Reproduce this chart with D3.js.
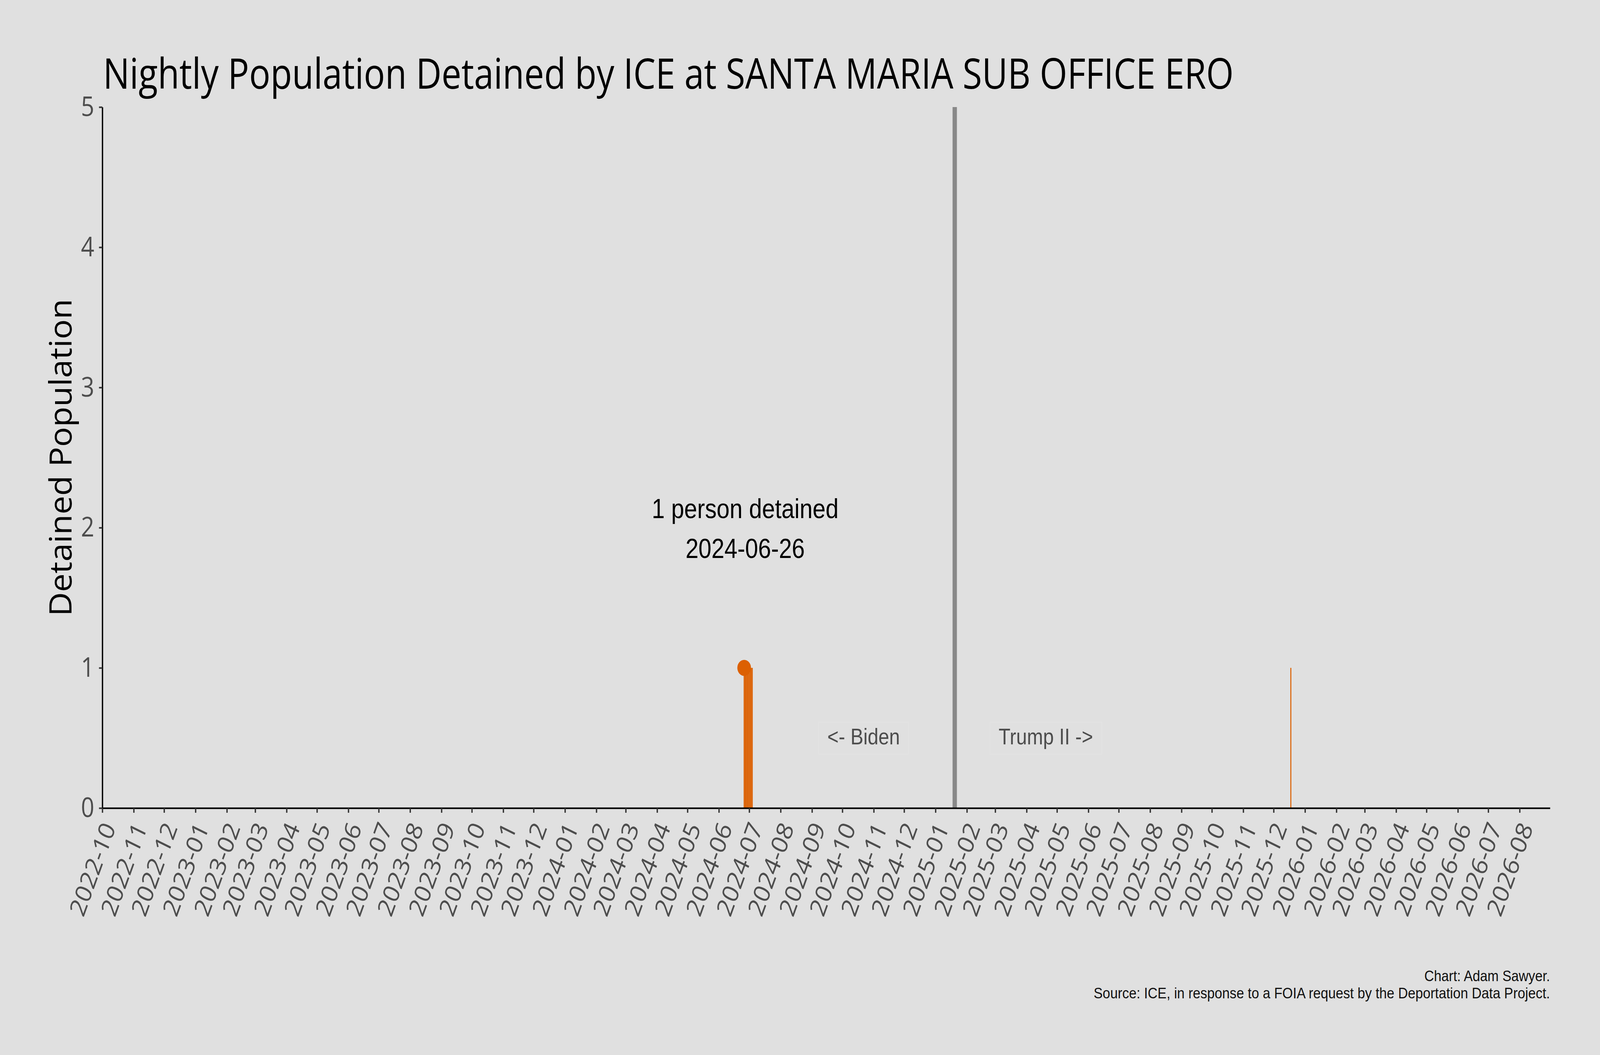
<!DOCTYPE html>
<html>
<head>
<meta charset="utf-8">
<script src="https://cdn.jsdelivr.net/npm/d3@7"></script>
<style>
  html, body { margin: 0; padding: 0; overflow: hidden; background: #e0e0e0; }
  svg { display: block; width: 100vw; height: 100vh; }
</style>
</head>
<body>
<div id="root"></div>
<script>
// ---- data ----
var title = "Nightly Population Detained by ICE at SANTA MARIA SUB OFFICE ERO";
var yLabel = "Detained Population";
var captionLines = [
  "Chart: Adam Sawyer.",
  "Source: ICE, in response to a FOIA request by the Deportation Data Project."
];

// nights where someone was held (every other night is 0)
var detainedDates = [
  "2024-06-26", "2024-06-27", "2024-06-28", "2024-06-29", "2024-06-30",
  "2024-07-01", "2024-07-02", "2024-07-03", "2024-07-04", "2025-12-18"
];
var detainedCounts = [1, 1, 1, 1, 1, 1, 1, 1, 1, 1];

var peakDate = "2024-06-26";
var peakCount = 1;
var peakNote = ["1 person detained", "2024-06-26"];

var inaugurationDate = "2025-01-20";
var eraLabels = ["<- Biden", "Trump II ->"];

var xDomain = ["2022-10-01", "2026-08-31"];
var yDomain = [0, 5];
var yTicks = [0, 1, 2, 3, 4, 5];
var monthTicks = [
  "2022-10", "2022-11", "2022-12",
  "2023-01", "2023-02", "2023-03", "2023-04", "2023-05", "2023-06",
  "2023-07", "2023-08", "2023-09", "2023-10", "2023-11", "2023-12",
  "2024-01", "2024-02", "2024-03", "2024-04", "2024-05", "2024-06",
  "2024-07", "2024-08", "2024-09", "2024-10", "2024-11", "2024-12",
  "2025-01", "2025-02", "2025-03", "2025-04", "2025-05", "2025-06",
  "2025-07", "2025-08", "2025-09", "2025-10", "2025-11", "2025-12",
  "2026-01", "2026-02", "2026-03", "2026-04", "2026-05", "2026-06",
  "2026-07", "2026-08"
];

// ---- layout ----
var width = 4800;
var height = 2700;
var margin = { left: 307, right: 150, top: 274, bottom: 632 };
var orange = "#dc6002";
var uiFont = "'Open Sans', 'Noto Sans', sans-serif";
var arialFont = "'Liberation Sans', Arial, sans-serif";

var parseDay = d3.utcParse("%Y-%m-%d");
var parseMonth = d3.utcParse("%Y-%m");
var fmtMonth = d3.utcFormat("%Y-%m");

// drawn in a fixed 4800x2700 frame, stretched onto whatever the window is
var svg = d3
  .select("#root")
  .append("svg")
  .attr("viewBox", "0 0 " + width + " " + height)
  .attr("preserveAspectRatio", "none");

svg.append("rect").attr("width", width).attr("height", height).attr("fill", "#e0e0e0");

var xScale = d3
  .scaleUtc()
  .domain(xDomain.map(parseDay))
  .range([margin.left, width - margin.right]);

var yScale = d3
  .scaleLinear()
  .domain(yDomain)
  .range([height - margin.bottom, margin.top]);

// stretch / squeeze a text so its advance matches the reference width
function fitText(sel, target) {
  var w = sel.node().getComputedTextLength();
  if (Math.abs(w - target) > 2) {
    sel.attr("textLength", target).attr("lengthAdjust", "spacingAndGlyphs");
  }
}

// title
svg
  .append("text")
  .attr("x", 309)
  .attr("y", 227)
  .attr("font-family", uiFont)
  .attr("font-size", 108)
  .attr("fill", "#000")
  .text(title)
  .call(fitText, 3392);

// y label
svg
  .append("text")
  .attr("transform", "translate(215," + (margin.top + yScale(0)) / 2 + ") rotate(-90)")
  .attr("text-anchor", "middle")
  .attr("font-family", uiFont)
  .attr("font-size", 92)
  .attr("fill", "#000")
  .text(yLabel)
  .call(fitText, 812);

// one bar per night, one day wide, centred on the night
var halfDay = 12 * 3600 * 1000;
var nights = detainedDates.map(function (d, i) {
  return [parseDay(d), detainedCounts[i]];
});

svg
  .append("g")
  .selectAll("rect")
  .data(nights)
  .enter()
  .append("rect")
  .attr("x", function (d) { return xScale(new Date(+d[0] - halfDay)); })
  .attr("width", function (d) {
    return xScale(new Date(+d[0] + halfDay)) - xScale(new Date(+d[0] - halfDay));
  })
  .attr("y", function (d) { return yScale(d[1]); })
  .attr("height", function (d) { return yScale(0) - yScale(d[1]); })
  .attr("fill", orange);

// inauguration divider
var inaug = parseDay(inaugurationDate);
svg
  .append("line")
  .attr("x1", xScale(inaug))
  .attr("x2", xScale(inaug))
  .attr("y1", yScale(yDomain[1]))
  .attr("y2", yScale(0))
  .attr("stroke", "#888888")
  .attr("stroke-width", 13);

// era labels, 90 days either side of the divider
var eraOffsets = [-90, 90];
eraLabels.forEach(function (label, i) {
  var g = svg.append("g");
  var t = g
    .append("text")
    .attr("x", xScale(d3.utcDay.offset(inaug, eraOffsets[i])))
    .attr("y", yScale(0.5) + 16)
    .attr("text-anchor", "middle")
    .attr("font-family", arialFont)
    .attr("font-size", 58)
    .attr("fill", "#4d4d4d")
    .text(label);
  var bb = t.node().getBBox();
  g.insert("rect", "text")
    .attr("x", bb.x - 26)
    .attr("y", bb.y - 4)
    .attr("width", bb.width + 52)
    .attr("height", bb.height + 18)
    .attr("fill", "none")
    .attr("stroke", "#e3e3e3")
    .attr("stroke-width", 2);
});

// peak marker and note
var peak = parseDay(peakDate);
svg
  .append("circle")
  .attr("cx", xScale(peak))
  .attr("cy", yScale(peakCount))
  .attr("r", 20.5)
  .attr("fill", orange);

var note = svg
  .append("text")
  .attr("text-anchor", "middle")
  .attr("font-family", arialFont)
  .attr("font-size", 70)
  .attr("fill", "#000");
note
  .selectAll("tspan")
  .data(peakNote)
  .enter()
  .append("tspan")
  .attr("x", xScale(peak) + 3)
  .attr("y", function (d, i) { return yScale(2) - 24 + i * 102; })
  .text(function (d) { return d; });

// axes
var xAxis = d3
  .axisBottom(xScale)
  .tickValues(monthTicks.map(parseMonth))
  .tickFormat(fmtMonth)
  .tickSize(12)
  .tickSizeOuter(0);

var gx = svg
  .append("g")
  .attr("transform", "translate(0," + yScale(0) + ")")
  .call(xAxis);

gx.select(".domain").attr("stroke", "#000").attr("stroke-width", 4);
gx.selectAll(".tick line").attr("stroke", "#333").attr("stroke-width", 4);
gx.selectAll(".tick text")
  .attr("font-family", uiFont)
  .attr("font-size", 67)
  .attr("fill", "#4d4d4d")
  .attr("text-anchor", "end")
  .attr("x", 0)
  .attr("y", 0)
  .attr("dy", 0)
  .attr("transform", "translate(41,50) rotate(-67)");

var yAxis = d3
  .axisLeft(yScale)
  .tickValues(yTicks)
  .tickFormat(d3.format("d"))
  .tickSize(10)
  .tickPadding(14)
  .tickSizeOuter(0);

var gy = svg
  .append("g")
  .attr("transform", "translate(" + margin.left + ",0)")
  .call(yAxis);

gy.select(".domain").attr("stroke", "#000").attr("stroke-width", 4);
gy.selectAll(".tick line").attr("stroke", "#333").attr("stroke-width", 4);
gy.selectAll(".tick text")
  .attr("font-family", uiFont)
  .attr("font-size", 70)
  .attr("fill", "#4d4d4d");

// caption, right aligned under the plot
var captionWidths = [377, 1369];
svg
  .append("g")
  .selectAll("text")
  .data(captionLines)
  .enter()
  .append("text")
  .attr("x", width - margin.right)
  .attr("y", function (d, i) { return 2511 + i * 44; })
  .attr("text-anchor", "end")
  .attr("font-family", arialFont)
  .attr("font-size", 38)
  .attr("fill", "#111")
  .text(function (d) { return d; })
  .each(function (d, i) { d3.select(this).call(fitText, captionWidths[i]); });
</script>
</body>
</html>
